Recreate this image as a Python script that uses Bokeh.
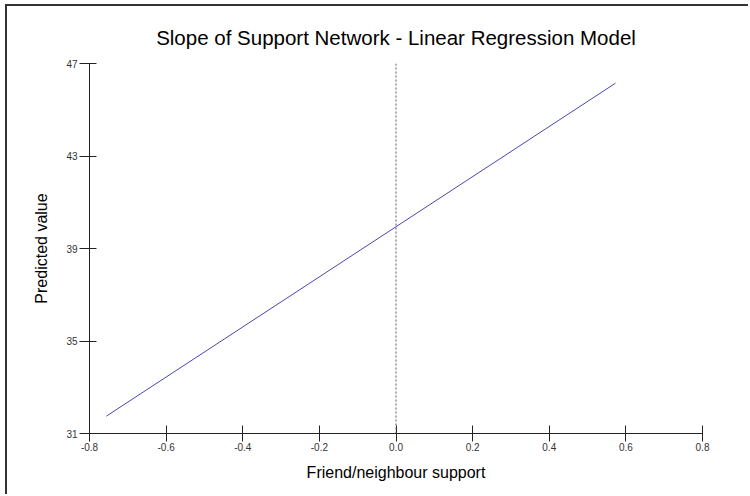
from bokeh.plotting import figure
from bokeh.models import Span, Range1d, FixedTicker, Title
from bokeh.embed import file_html
from bokeh.resources import INLINE

# Fitted regression line endpoints (predictor range observed in the sample)
support = [-0.756, 0.573]
predicted = [31.75, 46.15]

x_ticks = [-0.8, -0.6, -0.4, -0.2, 0.0, 0.2, 0.4, 0.6, 0.8]
y_ticks = [31, 35, 39, 43, 47]

p = figure(width=743, height=490, output_backend="svg", toolbar_location=None,
           x_range=Range1d(-0.8, 0.8), y_range=Range1d(31, 47),
           min_border_left=82, min_border_right=48,
           min_border_top=57, min_border_bottom=63,
           margin=(4, 0, 0, 5))

# page frame: top and left edges
p.styles = {"border-top": "2px solid #333333", "border-left": "2px solid #333333"}

p.title = Title(text="Slope of Support Network - Linear Regression Model",
                align="center", text_font="Liberation Sans", text_font_size="20.5px",
                text_font_style="normal", text_color="#000000", standoff=29)

p.outline_line_color = None
p.grid.visible = False
p.background_fill_color = "white"
p.border_fill_color = "white"

# zero reference line
p.add_layout(Span(location=0, dimension="height", line_color="#555555",
                  line_dash="2 2", line_width=1))

p.line(support, predicted, line_color="#4848b0", line_width=1)

for ax in (p.xaxis[0], p.yaxis[0]):
    ax.axis_line_color = "#222222"
    ax.major_tick_line_color = "#222222"
    ax.minor_tick_line_color = None
    ax.major_label_text_font = "Liberation Sans"
    ax.major_label_text_font_size = "10px"
    ax.major_label_text_color = "#333333"
    ax.axis_label_text_font = "Liberation Sans"
    ax.axis_label_text_font_size = "16px"
    ax.axis_label_text_font_style = "normal"
    ax.axis_label_text_color = "#000000"

p.xaxis.ticker = FixedTicker(ticks=x_ticks)
p.xaxis.major_label_overrides = {t: f"{t:.1f}" for t in x_ticks}
p.xaxis.major_tick_in = 8
p.xaxis.major_tick_out = 8
p.xaxis.major_label_standoff = 1
p.xaxis.axis_label = "Friend/neighbour support"
p.xaxis.axis_label_standoff = 10

p.yaxis.ticker = FixedTicker(ticks=y_ticks)
p.yaxis.major_tick_in = 7
p.yaxis.major_tick_out = 10
p.yaxis.major_label_standoff = 2
p.yaxis.axis_label = "Predicted value"
p.yaxis.axis_label_standoff = 13

open("out.html", "w").write(file_html(p, INLINE))
